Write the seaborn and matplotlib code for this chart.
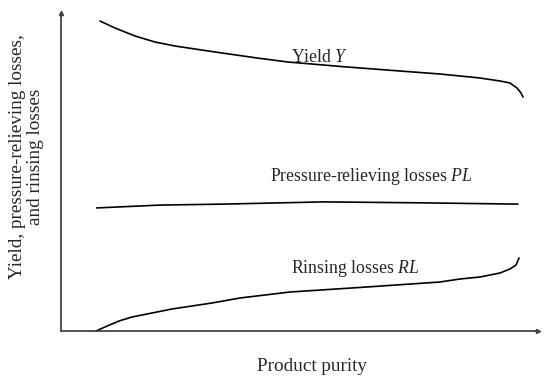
import numpy as np
import pandas as pd
import matplotlib.pyplot as plt
import seaborn as sns

# curve values (arbitrary units, 0-100)
yield_x = [8.18, 11.32, 15.51, 19.71, 23.90, 28.09, 32.29, 41.09, 47.59, 59.96,
           73.79, 79.45, 83.65, 87.84, 92.03, 94.13, 95.60, 96.44, 96.86]
yield_y = [97.48, 95.28, 92.77, 90.88, 89.62, 88.68, 87.74, 85.85, 84.59, 83.02,
           81.45, 80.82, 80.19, 79.56, 78.62, 77.99, 76.42, 74.84, 73.58]

pl_x = [7.5, 20.8, 34.0, 54.9, 75.9, 95.8]
pl_y = [38.7, 39.6, 39.9, 40.6, 40.3, 39.9]

rl_x = [7.34, 9.22, 12.16, 14.88, 19.08, 23.27, 27.46, 31.66, 37.53, 48.01,
        64.15, 79.45, 83.65, 87.84, 92.03, 94.13, 95.39, 96.02]
rl_y = [0.0, 1.26, 3.14, 4.40, 5.66, 6.92, 7.86, 8.81, 10.38, 12.26,
        13.84, 15.41, 16.35, 16.98, 18.24, 19.50, 20.75, 22.96]

df = pd.concat([
    pd.DataFrame({"purity": yield_x, "value": yield_y, "curve": "Y"}),
    pd.DataFrame({"purity": pl_x, "value": pl_y, "curve": "PL"}),
    pd.DataFrame({"purity": rl_x, "value": rl_y, "curve": "RL"}),
])

sns.set_style("white")
plt.rcParams["font.family"] = ["Liberation Serif", "DejaVu Serif"]
plt.rcParams["mathtext.fontset"] = "custom"
plt.rcParams["mathtext.it"] = "Liberation Serif:italic"
plt.rcParams["mathtext.rm"] = "Liberation Serif"

fig = plt.figure(figsize=(5.5, 3.83), dpi=100)
ax = fig.add_axes([61 / 550, 52 / 383, 477 / 550, 318 / 383])

sns.lineplot(data=df, x="purity", y="value", units="curve", estimator=None,
             sort=False, color="black", linewidth=1.2, ax=ax)
for ln in ax.lines:
    ln.set_solid_joinstyle("round")
    ln.set_clip_on(False)

ax.set_xlim(0, 100)
ax.set_ylim(0, 100)
ax.set_xticks([])
ax.set_yticks([])
for s in ["top", "right"]:
    ax.spines[s].set_visible(False)
for s in ["left", "bottom"]:
    ax.spines[s].set_color("#444444")
    ax.spines[s].set_linewidth(1.3)

# arrow heads on the axes
ax.plot(1, 0, ">", color="#444444", ms=3, transform=ax.transAxes, clip_on=False)
ax.plot(0, 1, "^", color="#444444", ms=3, transform=ax.transAxes, clip_on=False)

fs = 12.8
ax.text(54.3, 86, "Yield $Y$", ha="center", va="center", fontsize=fs)
ax.text(65.0, 48.5, "Pressure-relieving losses $PL$", ha="center", va="center", fontsize=fs)
ax.text(61.6, 19.8, "Rinsing losses $RL$", ha="center", va="center", fontsize=fs)

lfs = 13.8
ax.set_xlabel("Product purity", fontsize=lfs)
ax.xaxis.set_label_coords(0.527, -0.085)
ax.set_ylabel("Yield, pressure-relieving losses,\nand rinsing losses", fontsize=lfs,
              linespacing=1.05)
ax.yaxis.set_label_coords(-0.036, 0.547)

fig.savefig("out.png", dpi=100)
